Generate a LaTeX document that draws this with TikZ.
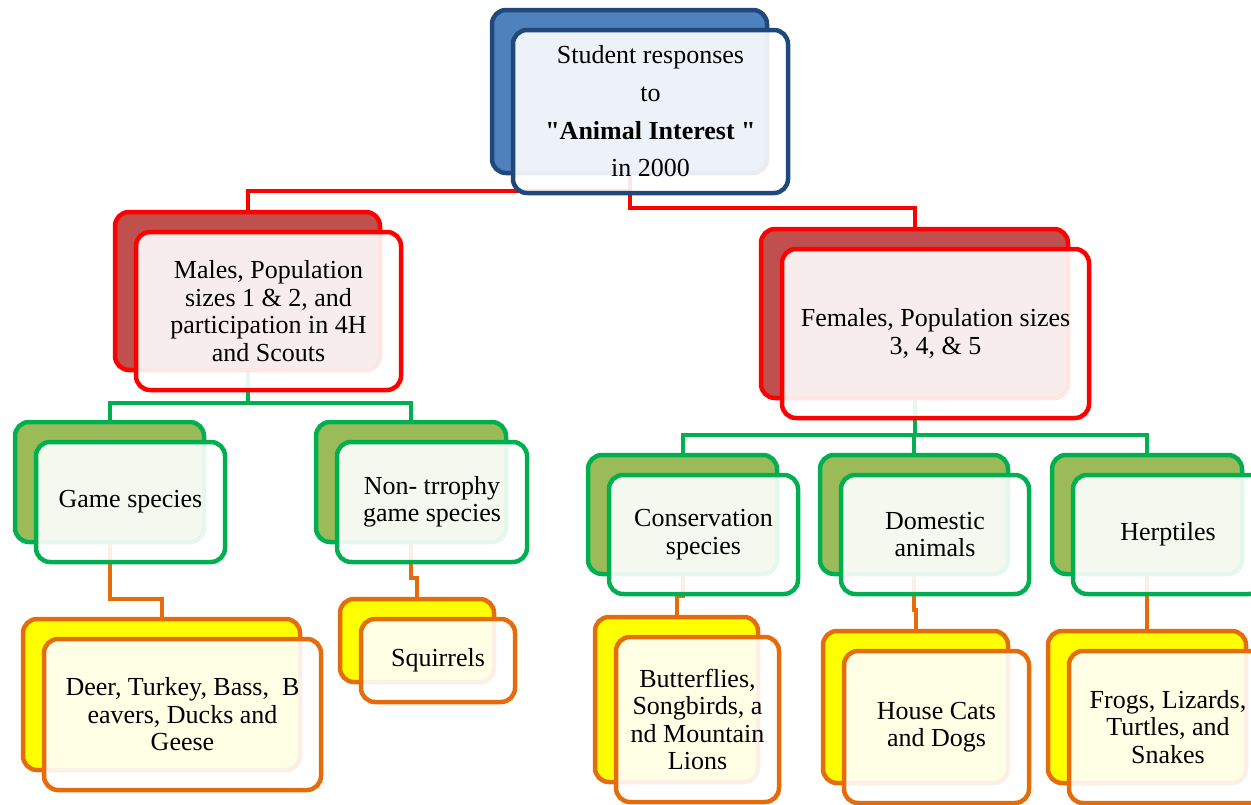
\documentclass[tikz,border=0pt]{standalone}
\usepackage{fontspec}
\setmainfont{Liberation Serif}[Ligatures=TeXOff]
\pgfdeclarelayer{links}
\pgfsetlayers{links,main}

\definecolor{navyline}{HTML}{1F497D}
\definecolor{bluefill}{HTML}{4F81BD}
\definecolor{redline}{HTML}{FF0000}
\definecolor{redfill}{HTML}{C0504D}
\definecolor{greenline}{HTML}{00B050}
\definecolor{greenfill}{HTML}{9BBB59}
\definecolor{orangeline}{HTML}{E46C0A}
\definecolor{yellowfill}{HTML}{FFFF00}

\newcommand\boxfont{\fontsize{26}{27.5}\selectfont}
\newcommand\titlefont{\fontsize{26}{37.7}\selectfont}

\tikzset{
  box/.style={rectangle, rounded corners=14pt, line width=4.5pt, inner sep=0pt},
  frontbox/.style={box, fill=white, fill opacity=0.9, text opacity=1, align=center, font=\boxfont},
  blueback/.style={box, draw=navyline, fill=bluefill},
  bluefront/.style={frontbox, draw=navyline, font=\titlefont},
  redback/.style={box, draw=redline, fill=redfill},
  redfront/.style={frontbox, draw=redline},
  greenback/.style={box, draw=greenline, fill=greenfill},
  greenfront/.style={frontbox, draw=greenline},
  orangeback/.style={box, draw=orangeline, fill=yellowfill},
  orangefront/.style={frontbox, draw=orangeline},
  link/.style={line width=4pt},
  redlink/.style={link, draw=redline},
  greenlink/.style={link, draw=greenline},
  orangelink/.style={link, draw=orangeline},
}

% #1 name, #2 colour family, #3 left, #4 top, #5 right, #6 bottom, #7 text
\newcommand\twobox[7]{%
  \node[#2back, minimum width={#5-#3}, minimum height={#6-#4}]
    (#1B) at ({(#3+#5)/2},{(#4+#6)/2}) {};
  \node[#2front, minimum width={#5-#3}, minimum height={#6-#4}]
    (#1F) at ({(#3+#5)/2+21},{(#4+#6)/2+20}) {#7};
}

\begin{document}
\begin{tikzpicture}[x=1pt, y=-1pt]
\useasboundingbox (0,0) rectangle (1251,804);

% root
\twobox{top}{blue}{492}{10}{767}{173}
  {Student responses\\to\\\textbf{"Animal Interest "}\\in 2000}

% second level
\twobox{males}{red}{115}{212}{380}{370}
  {Males, Population\\sizes 1 \& 2, and\\participation in 4H\\and Scouts}
\twobox{females}{red}{761}{229}{1068}{398}
  {Females, Population sizes\\3, 4, \& 5}

% third level
\twobox{game}{green}{15}{422}{204}{542}{Game species}
\twobox{trophy}{green}{316}{422}{506}{542}{Non- trrophy\\game species}
\twobox{cons}{green}{588}{455}{777}{574}{Conservation\\species}
\twobox{dom}{green}{820}{455}{1008}{574}{Domestic\\animals}
\twobox{herp}{green}{1052}{455}{1242}{574}{Herptiles}

% leaves
\twobox{deer}{orange}{23}{619}{300}{770}
  {Deer, Turkey, Bass,\ \ B\\eavers, Ducks and\\Geese}
\twobox{squir}{orange}{340}{599}{494}{682}{Squirrels}
\twobox{butt}{orange}{595}{617}{758}{782}
  {Butterflies,\\Songbirds, a\\nd Mountain\\Lions}
\twobox{cats}{orange}{823}{631}{1008}{783}{House Cats\\and Dogs}
\twobox{frogs}{orange}{1048}{631}{1246}{783}
  {Frogs, Lizards,\\Turtles, and\\Snakes}

% elbow connectors, kept behind the boxes
\begin{pgfonlayer}{links}
\draw[redlink] (topB.south) |- ([yshift=19pt]malesB.north) -- (malesB.north);
\draw[redlink] (topB.south) |- ([yshift=19pt]femalesB.north) -- (femalesB.north);

\draw[greenlink] (malesB.south) |- ([yshift=17pt]gameB.north) -- (gameB.north);
\draw[greenlink] (malesB.south) |- ([yshift=17pt]trophyB.north) -- (trophyB.north);
\draw[greenlink] (femalesB.south) |- ([yshift=18pt]consB.north) -- (consB.north);
\draw[greenlink] (femalesB.south) |- ([yshift=18pt]domB.north) -- (domB.north);
\draw[greenlink] (femalesB.south) |- ([yshift=18pt]herpB.north) -- (herpB.north);

\draw[orangelink] (gameB.south) |- ([yshift=18pt]deerB.north) -- (deerB.north);
\draw[orangelink] (trophyB.south) |- ([yshift=19pt]squirB.north) -- (squirB.north);
\draw[orangelink] (consB.south) |- ([yshift=19pt]buttB.north) -- (buttB.north);
\draw[orangelink] (domB.south) |- ([yshift=19pt]catsB.north) -- (catsB.north);
\draw[orangelink] (herpB.south) |- ([yshift=19pt]frogsB.north) -- (frogsB.north);
\end{pgfonlayer}
\end{tikzpicture}
\end{document}
